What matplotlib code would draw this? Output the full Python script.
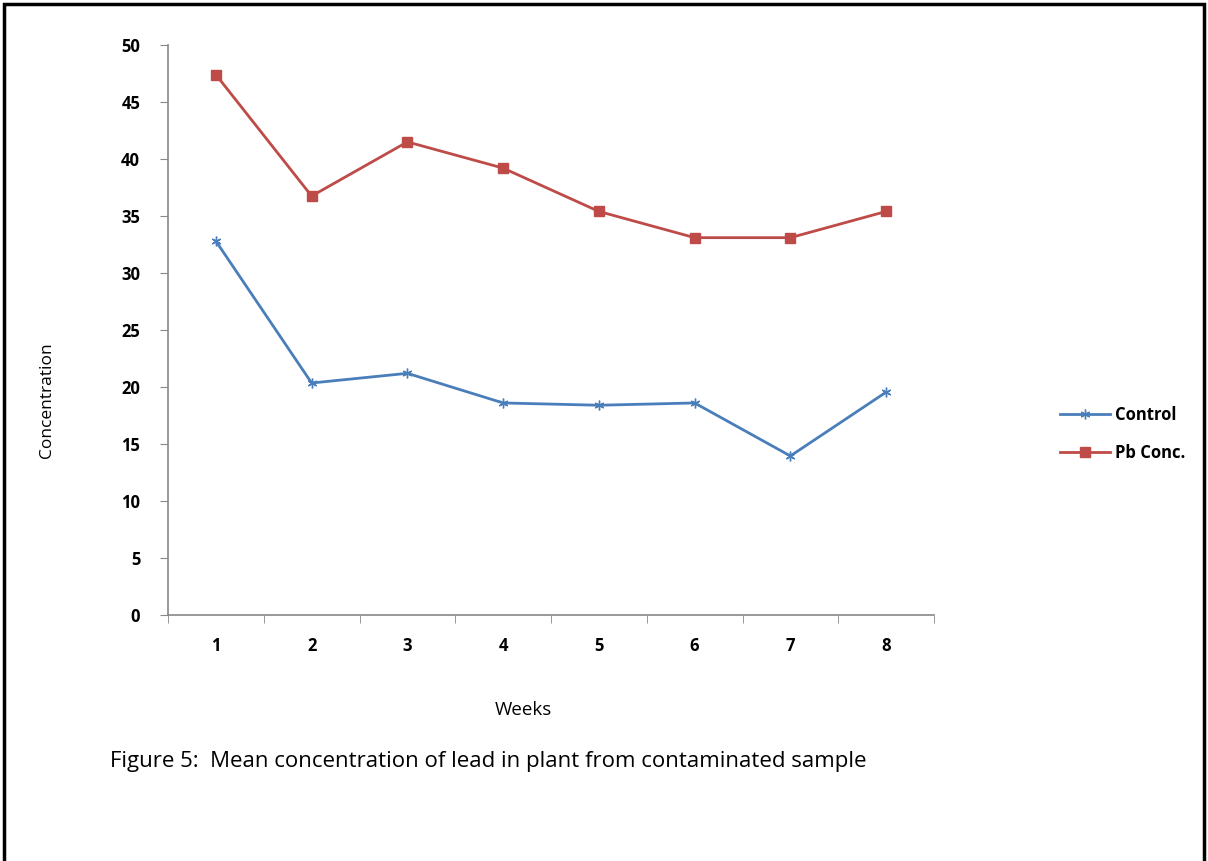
import matplotlib
matplotlib.use("Agg")
import matplotlib.pyplot as plt
from matplotlib.lines import Line2D
from matplotlib.patches import Rectangle

weeks = [1, 2, 3, 4, 5, 6, 7, 8]
week_labels = ["1", "2", "3", "4", "5", "6", "7", "8"]
control = [32.8, 20.35, 21.2, 18.6, 18.4, 18.6, 13.95, 19.55]
pb_conc = [47.4, 36.75, 41.5, 39.2, 35.4, 33.1, 33.1, 35.4]
yticks = [0, 5, 10, 15, 20, 25, 30, 35, 40, 45, 50]

plt.rcParams['font.family'] = ['Open Sans', 'DejaVu Sans']

fig = plt.figure(figsize=(12.08, 8.61), dpi=100)
ax = fig.add_axes([168/1208, 1-615/861, (934-168)/1208, (615-45)/861])

blue = '#4A7EBB'
red = '#BE4B48'
ax.plot(weeks, control, color=blue, lw=2, marker=(6, 2, 0), ms=7, mew=1.0, label='Control')
ax.plot(weeks, pb_conc, color=red, lw=2, marker='s', ms=7, label='Pb Conc.')

ax.set_xlim(0.5, 8.5)
ax.set_ylim(0, 50)
ax.set_yticks(yticks)
ax.set_yticklabels([str(v) for v in yticks], fontsize=12, fontweight='bold')
ax.set_xticks(weeks)
ax.set_xticklabels(week_labels, fontsize=12, fontweight='bold')
ax.set_xticks([w + 0.5 for w in [0] + weeks], minor=True)
ax.tick_params(axis='x', which='major', length=0, pad=16)
ax.tick_params(axis='x', which='minor', length=6, color='#888888', direction='out')
ax.tick_params(axis='y', length=6, color='#888888', direction='out', pad=14)
for s in ['top', 'right']:
    ax.spines[s].set_visible(False)
for s in ['left', 'bottom']:
    ax.spines[s].set_color('#888888')
    ax.spines[s].set_linewidth(1.2)

fig.text(47/1208, 1-400/861, 'Concentration', rotation=90, ha='center', va='center', fontsize=12.5)
fig.text(523/1208, 1-710/861, 'Weeks', ha='center', va='center', fontsize=13.5)
fig.text(110/1208, 1-762/861, 'Figure 5:  Mean concentration of lead in plant from contaminated sample',
         ha='left', va='center', fontsize=16)

handles = [Line2D([], [], color=blue, lw=2, marker=(6, 2, 0), ms=7, mew=1.0),
           Line2D([], [], color=red, lw=2, marker='s', ms=7)]
fig.legend(handles, ['Control', 'Pb Conc.'], loc='center left', bbox_to_anchor=(1045/1208, 1-434/861),
           frameon=False, prop={'size': 12, 'weight': 'bold'}, handlelength=3, labelspacing=1.2,
           handletextpad=0.3)

fig.add_artist(Rectangle((4/1208, -0.01), 1 - 8/1208, 1 - 4/861 + 0.01, transform=fig.transFigure,
                         fill=False, edgecolor='black', lw=2.5))

fig.savefig('out.png', dpi=100)
